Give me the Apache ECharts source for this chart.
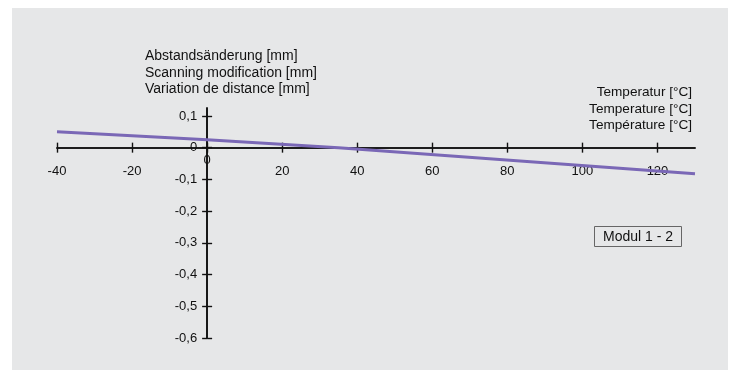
<!DOCTYPE html>
<html>
<head>
<meta charset="utf-8">
<script src="https://cdn.jsdelivr.net/npm/echarts@6/dist/echarts.min.js"></script>
<style>
  html, body { margin: 0; padding: 0; background: #ffffff; }
  .containerChart {
    position: absolute;
    left: 12px;
    top: 8px;
    width: 716px;
    height: 362px;
    background: #e6e7e8;
  }
  .chart { width: 100%; height: 100%; }
</style>
</head>
<body>
<div class="containerChart">
  <div class="chart" id="main"></div>
</div>
<script>
// Daten
const temps = [-40, 0, 35, 130];
const deltas = [0.05, 0.025, 0, -0.082];
const xTicks = [-40, -20, 0, 20, 40, 60, 80, 100, 120];
const yTicks = [-0.6, -0.5, -0.4, -0.3, -0.2, -0.1, 0, 0.1];
const yLabelTitle = ['Abstandsänderung [mm]', 'Scanning modification [mm]', 'Variation de distance [mm]'];
const xLabelTitle = ['Temperatur [°C]', 'Temperature [°C]', 'Température [°C]'];
const moduleName = 'Modul 1 - 2';

const font = 'Liberation Sans, Arial, Helvetica, sans-serif';
const fmtY = v => String(Math.round(v * 10) / 10).replace('.', ',');

const gridPos = { left: 45, right: 33, top: 100, bottom: 32 };
const chartW = 716, chartH = 362;

const chart = echarts.init(document.getElementById('main'));

function buildOption(xOff, yOff) {
  const lineStyle = { color: '#111', width: 1.6 };
  const tickStyle = { color: '#111', width: 1.4 };
  const labelStyle = { color: '#111', fontFamily: font, fontSize: 13 };
  const baseX = {
    type: 'value', min: -40, max: 130, position: 'bottom', offset: xOff,
    splitLine: { show: false },
    axisLine: { onZero: false, lineStyle: lineStyle }
  };
  const baseY = {
    type: 'value', min: -0.6, max: 0.125, position: 'left', offset: yOff,
    splitLine: { show: false },
    axisLine: { onZero: false, lineStyle: lineStyle }
  };
  return {
    animation: false,
    grid: Object.assign({ containLabel: false }, gridPos),
    title: [
      {
        text: yLabelTitle.join('\n'),
        left: 133, top: 40, padding: 0,
        textStyle: { fontFamily: font, fontSize: 14, fontWeight: 'normal', color: '#111', lineHeight: 16.5 }
      },
      {
        text: xLabelTitle.join('\n'),
        left: 680, top: 76, padding: 0,
        textAlign: 'right',
        textStyle: { fontFamily: font, fontSize: 13.6, fontWeight: 'normal', color: '#111', lineHeight: 16.5, align: 'right' }
      },
      {
        text: moduleName,
        left: 582, top: 218,
        padding: [4, 9, 3, 9],
        borderColor: '#666', borderWidth: 1,
        textStyle: { fontFamily: font, fontSize: 14, fontWeight: 'normal', color: '#111' }
      }
    ],
    xAxis: [
      Object.assign({}, baseX, {
        axisTick: { length: 5, customValues: xTicks, lineStyle: tickStyle },
        axisLabel: Object.assign({}, labelStyle, {
          margin: 17, customValues: xTicks,
          formatter: v => (v === 0 ? '' : String(v))
        })
      }),
      Object.assign({}, baseX, {
        axisTick: { length: 5, inside: true, customValues: xTicks, lineStyle: tickStyle },
        axisLabel: Object.assign({}, labelStyle, {
          margin: 6, customValues: [0],
          formatter: v => (v === 0 ? '0' : '')
        })
      })
    ],
    yAxis: [
      Object.assign({}, baseY, {
        axisTick: { length: 5, customValues: yTicks, lineStyle: tickStyle },
        axisLabel: Object.assign({}, labelStyle, { margin: 10, customValues: yTicks, formatter: fmtY })
      }),
      Object.assign({}, baseY, {
        axisTick: { length: 5, inside: true, customValues: yTicks, lineStyle: tickStyle },
        axisLabel: { show: false }
      })
    ],
    series: [
      {
        type: 'line',
        data: temps.map((t, i) => [t, deltas[i]]),
        showSymbol: false,
        lineStyle: { color: '#7a68b6', width: 3 },
        z: 1
      }
    ]
  };
}

chart.setOption(buildOption(0, 0));
// Achsen durch den Nullpunkt legen
const origin = chart.convertToPixel({ gridIndex: 0 }, [0, 0]);
const xOff = -((chartH - gridPos.bottom) - origin[1]);
const yOff = -(origin[0] - gridPos.left);
chart.setOption(buildOption(xOff, yOff), true);
</script>
</body>
</html>
